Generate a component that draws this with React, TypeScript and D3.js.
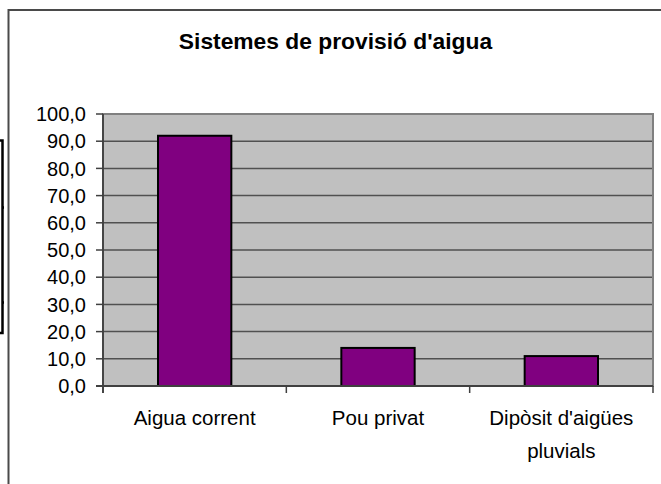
import React from 'react';
import * as d3 from 'd3';

const categories = ['Aigua corrent', 'Pou privat', "Dipòsit d'aigües pluvials"];
const values = [92.0, 14.0, 11.0];
const yTicks = [0, 10, 20, 30, 40, 50, 60, 70, 80, 90, 100];
const labelLines = [['Aigua corrent'], ['Pou privat'], ["Dipòsit d'aigües", 'pluvials']];

const width = 661;
const height = 484;
const plot = { left: 103, right: 653, top: 114, bottom: 386 };
const font = '"Liberation Sans", Arial, sans-serif';

const App = () => {
  const x = d3.scaleBand<string>()
    .domain(categories)
    .range([plot.left, plot.right]);

  const y = d3.scaleLinear()
    .domain([0, 100])
    .range([plot.bottom, plot.top]);

  // gap width 150% like Excel: bar = band / 2.5
  const barW = x.bandwidth() / 2.5;
  const fmt = (v: number) => v.toFixed(1).replace('.', ',');

  return (
    <svg width={width} height={height} style={{ position: 'absolute', left: 0, top: 0 }}>
      <rect width={width} height={height} fill="#fff" />
      {/* chart frame, runs past the right and bottom edge */}
      <rect x={8.5} y={10} width={width + 20} height={height + 20} fill="none" stroke="#4a4a4a" strokeWidth={2} />

      {/* leftover bracket at the far left */}
      <path d="M0,140.5H2.5V333H0 M2.5,207.5H4 M2.5,302.5H4" fill="none" stroke="#000" strokeWidth={2.5} />

      <text x={335.5} y={48.5} textAnchor="middle" fontFamily={font} fontWeight="bold" fontSize={22.8} fill="#000">
        Sistemes de provisió d'aigua
      </text>

      <rect x={plot.left} y={plot.top} width={plot.right - plot.left} height={plot.bottom - plot.top}
        fill="#c0c0c0" stroke="#808080" strokeWidth={2} />

      {yTicks.filter(t => t > 0 && t < 100).map(t => (
        <line key={t} x1={plot.left} x2={plot.right - 1} y1={y(t)} y2={y(t)} stroke="#505050" strokeWidth={1.5} />
      ))}

      {categories.map((c, i) => (
        <rect key={c} x={x(c)! + (x.bandwidth() - barW) / 2} y={y(values[i])}
          width={barW} height={plot.bottom - y(values[i])}
          fill="#800080" stroke="#000" strokeWidth={2} />
      ))}

      {/* y axis */}
      <line x1={plot.left} x2={plot.left} y1={plot.top} y2={plot.bottom + 7} stroke="#404040" strokeWidth={1.8} />
      {yTicks.map(t => (
        <g key={t}>
          <line x1={plot.left - 7} x2={plot.left} y1={y(t)} y2={y(t)} stroke="#404040" strokeWidth={1.5} />
          <text x={86} y={y(t)} dy="0.36em" textAnchor="end" fontFamily={font} fontSize={20} fill="#000">
            {fmt(t)}
          </text>
        </g>
      ))}

      {/* x axis */}
      <line x1={plot.left - 7} x2={plot.right} y1={plot.bottom} y2={plot.bottom} stroke="#404040" strokeWidth={1.8} />
      {[...categories.map(c => x(c)!), plot.right].map((px, i) => (
        <line key={i} x1={px} x2={px} y1={plot.bottom} y2={plot.bottom + 7} stroke="#404040" strokeWidth={1.5} />
      ))}
      {categories.map((c, i) => (
        <text key={c} x={x(c)! + x.bandwidth() / 2} y={425} textAnchor="middle" fontFamily={font} fontSize={20.5} fill="#000">
          {labelLines[i].map((l, j) => (
            <tspan key={j} x={x(c)! + x.bandwidth() / 2} dy={j === 0 ? 0 : 33}>{l}</tspan>
          ))}
        </text>
      ))}
    </svg>
  );
};

export default App;
